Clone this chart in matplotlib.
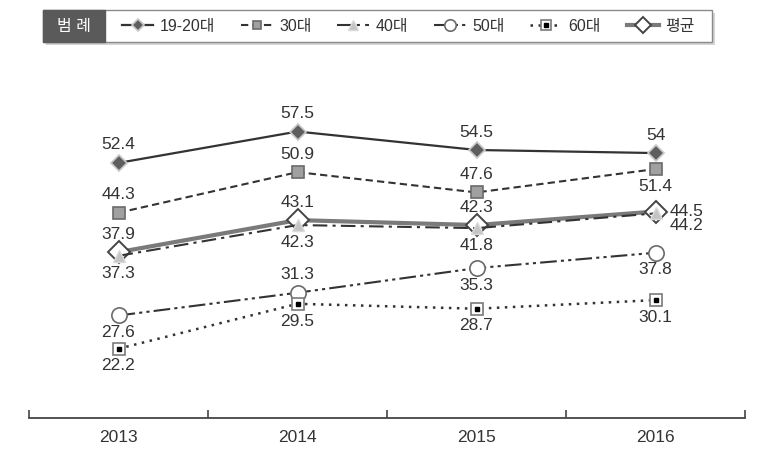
import matplotlib
matplotlib.use("Agg")
import matplotlib.pyplot as plt
from matplotlib.patches import Rectangle
from matplotlib.legend_handler import HandlerTuple

plt.rcParams['font.family'] = ['Liberation Sans', 'Noto Sans CJK KR', 'DejaVu Sans']

years = ['2013', '2014', '2015', '2016']
age_20 = [52.4, 57.5, 54.5, 54]
age_30 = [44.3, 50.9, 47.6, 51.4]
age_40 = [37.3, 42.3, 41.8, 44.2]
age_50 = [27.6, 31.3, 35.3, 37.8]
age_60 = [22.2, 29.5, 28.7, 30.1]
average = [37.9, 43.1, 42.3, 44.5]

# label placement per point: 'a' above, 'b' below, 'r' right
pos_20 = ['a', 'a', 'a', 'a']
pos_30 = ['a', 'a', 'a', 'b']
pos_40 = ['b', 'b', 'b', 'r']
pos_50 = ['b', 'a', 'b', 'b']
pos_60 = ['b', 'b', 'b', 'b']
pos_avg = ['a', 'a', 'a', 'r']

fig = plt.figure(figsize=(7.6, 4.68), dpi=100)
ax = fig.add_axes([29 / 760, 50 / 468, 716 / 760, 348 / 468])
x = range(len(years))

l20, = ax.plot(x, age_20, color='#333333', lw=1.6, marker='D', ms=8,
               mfc='#5e5e5e', mec='#c8c8c8', mew=1.2, zorder=5)
l30, = ax.plot(x, age_30, color='#333333', lw=1.5, ls=(0, (3.5, 2)), marker='s', ms=8.5,
               mfc='#a0a0a0', mec='#6a6a6a', mew=1.2, zorder=5)
lavg, = ax.plot(x, average, color='#7a7a7a', lw=3, marker='D', ms=11,
                mfc='white', mec='#444444', mew=1.4, zorder=4)
l40, = ax.plot(x, age_40, color='#333333', lw=1.5, ls=(0, (7, 2.5, 1.5, 2.5)), marker='^', ms=9,
               mfc='#c4c4c4', mec='#dadada', mew=1, zorder=6)
l50, = ax.plot(x, age_50, color='#333333', lw=1.5, ls=(0, (8, 2, 1.5, 2, 1.5, 2)), marker='o', ms=11,
               mfc='white', mec='#6a6a6a', mew=1.2, zorder=5)
l60, = ax.plot(x, age_60, color='#333333', lw=1.8, ls=(0, (1, 2.2)), marker='s', ms=9,
               mfc='white', mec='#7a7a7a', mew=1.2, zorder=5)
l60c, = ax.plot(x, age_60, ls='none', marker='s', ms=3.5, mfc='black', mec='black', zorder=6)

label_dy = {(3, 44.5): 0, (3, 44.2): -8.5}
series = [(age_20, pos_20), (age_30, pos_30), (age_40, pos_40),
          (age_50, pos_50), (age_60, pos_60), (average, pos_avg)]
for vals, poss in series:
    for i, (v, p) in enumerate(zip(vals, poss)):
        txt = f"{v:g}"
        if p == 'a':
            ax.annotate(txt, (i, v), xytext=(0, 7.5), textcoords='offset points',
                        ha='center', va='bottom', fontsize=12.5, color='#333333')
        elif p == 'b':
            ax.annotate(txt, (i, v), xytext=(0, -7), textcoords='offset points',
                        ha='center', va='top', fontsize=12.5, color='#333333')
        else:
            ax.annotate(txt, (i, v), xytext=(10, label_dy[(i, v)]), textcoords='offset points',
                        ha='left', va='center', fontsize=12.5, color='#333333')

ax.set_xlim(-0.5, 3.5)
ax.set_ylim(10.94, 67.5)
for s in ['top', 'right', 'left']:
    ax.spines[s].set_visible(False)
ax.spines['bottom'].set_color('#444444')
ax.spines['bottom'].set_linewidth(1.3)
ax.set_yticks([])
ax.set_xticks([-0.5, 0.5, 1.5, 2.5, 3.5])
ax.set_xticklabels([])
ax.tick_params(axis='x', which='major', direction='in', length=6, color='#444444', width=1.2)
ax.set_xticks(list(x), minor=True)
ax.set_xticklabels(years, minor=True, fontsize=12.5, color='#333333')
ax.tick_params(axis='x', which='minor', length=0, pad=9)

# legend box
shadow = Rectangle((46 / 760, 1 - 45 / 468), 669 / 760, 32 / 468, transform=fig.transFigure,
                   facecolor='#d4d4d4', edgecolor='none', zorder=0)
box = Rectangle((43 / 760, 1 - 42 / 468), 669 / 760, 32 / 468, transform=fig.transFigure,
                facecolor='white', edgecolor='#8a8a8a', lw=1, zorder=1)
head = Rectangle((43 / 760, 1 - 42 / 468), 62 / 760, 32 / 468, transform=fig.transFigure,
                 facecolor='#5a5a5a', edgecolor='#5a5a5a', lw=1, zorder=2)
fig.patches.extend([shadow, box, head])
fig.text(74 / 760, 1 - 26 / 468, '범 례', color='white', fontsize=11.5,
         ha='center', va='center', zorder=3)

leg = fig.legend([l20, l30, l40, l50, (l60, l60c), lavg],
                 ['19-20대', '30대', '40대', '50대', '60대', '평균'],
                 handler_map={tuple: HandlerTuple(ndivide=1, pad=0)},
                 loc='center', bbox_to_anchor=(408 / 760, 1 - 26 / 468), ncol=6,
                 frameon=False, fontsize=11.5, handlelength=2.0, handletextpad=0.4,
                 columnspacing=1.6, markerscale=0.75)
leg.set_zorder(4)
for t in leg.get_texts():
    t.set_color('#333333')

fig.savefig('out.png', dpi=100)
